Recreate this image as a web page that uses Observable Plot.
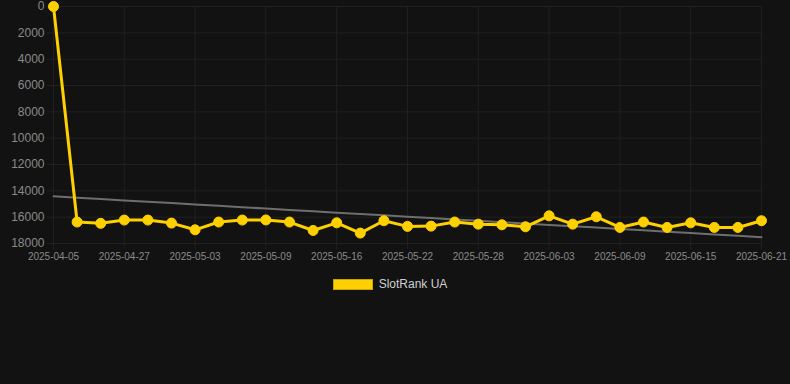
<!DOCTYPE html>
<html>
<head>
<meta charset="utf-8">
<script src="https://cdn.jsdelivr.net/npm/d3@7"></script>
<script src="https://cdn.jsdelivr.net/npm/@observablehq/plot@0.6"></script>
<style>
  html, body { margin: 0; padding: 0; background: #121212; }
  body { width: 790px; height: 384px; overflow: hidden; font-family: "Liberation Sans", Arial, Helvetica, sans-serif; }
  #chart svg { display: block; background: #121212; }
  #legend { display: flex; justify-content: center; align-items: center; height: 28px; margin-left: -10px; }
  #legend .box { width: 40px; height: 11px; background: #FFD000; border: 1px solid #c9a400; box-sizing: border-box; margin-right: 6px; }
  #legend .lbl { color: #cfcfcf; font-size: 12px; }
</style>
</head>
<body>
<div id="chart"></div>
<div id="legend"><span class="box"></span><span class="lbl">SlotRank UA</span></div>
<script>
const dates = [
  "2025-04-05", "2025-04-23", "2025-04-25", "2025-04-27", "2025-04-29", "2025-05-01",
  "2025-05-03", "2025-05-05", "2025-05-07", "2025-05-09", "2025-05-11", "2025-05-14",
  "2025-05-16", "2025-05-18", "2025-05-20", "2025-05-22", "2025-05-24", "2025-05-26",
  "2025-05-28", "2025-05-30", "2025-06-01", "2025-06-03", "2025-06-05", "2025-06-07",
  "2025-06-09", "2025-06-11", "2025-06-13", "2025-06-15", "2025-06-17", "2025-06-19",
  "2025-06-21"
];
const ranks = [
  0, 16370, 16470, 16220, 16220, 16450,
  16960, 16370, 16220, 16210, 16370, 17010,
  16430, 17210, 16270, 16700, 16680, 16370,
  16530, 16580, 16730, 15900, 16530, 15970,
  16780, 16370, 16780, 16430, 16780, 16780,
  16270
];
const xTickIndex = dates.map((d, i) => i).filter(i => i % 3 === 0);
const yTicks = [0, 2000, 4000, 6000, 8000, 10000, 12000, 14000, 16000, 18000];
const seriesName = "SlotRank UA";

const data = dates.map((d, i) => ({date: d, rank: ranks[i], i}));

// least-squares trend line over the series (by index)
const mx = d3.mean(data, d => d.i), my = d3.mean(data, d => d.rank);
const slope = d3.sum(data, d => (d.i - mx) * (d.rank - my)) / d3.sum(data, d => (d.i - mx) ** 2);
const intercept = my - slope * mx;
const trend = data.map(d => ({i: d.i, rank: intercept + slope * d.i}));

const gridColor = "#202020";
const textColor = "#8a8a8a";
const lineColor = "#FFD000";

const chart = Plot.plot({
  width: 790,
  height: 270,
  marginLeft: 53,
  marginRight: 29,
  marginTop: 6,
  marginBottom: 27,
  style: {background: "#121212", fontFamily: "'Liberation Sans', Arial, Helvetica, sans-serif"},
  x: {type: "linear", domain: [0, dates.length - 1], axis: null, label: null},
  y: {domain: [0, 18000], reverse: true, axis: null, label: null},
  marks: [
    Plot.gridY(yTicks, {stroke: gridColor, strokeOpacity: 1}),
    Plot.gridX(xTickIndex, {stroke: gridColor, strokeOpacity: 1}),
    Plot.axisY({ticks: yTicks, tickFormat: d => String(d), tickSize: 6, tickPadding: 3, stroke: gridColor, fill: textColor, fontSize: 12, label: null}),
    Plot.axisX({ticks: xTickIndex, tickFormat: i => dates[i], tickSize: 6, tickPadding: 3, stroke: gridColor, fill: textColor, fontSize: 10, label: null}),
    Plot.line(trend, {x: "i", y: "rank", stroke: "#6e6e6e", strokeWidth: 2}),
    Plot.line(data, {x: "i", y: "rank", stroke: lineColor, strokeWidth: 3}),
    Plot.dot(data, {x: "i", y: "rank", r: 5, fill: lineColor, stroke: lineColor, strokeWidth: 1})
  ]
});
document.getElementById("chart").appendChild(chart);
</script>
</body>
</html>
